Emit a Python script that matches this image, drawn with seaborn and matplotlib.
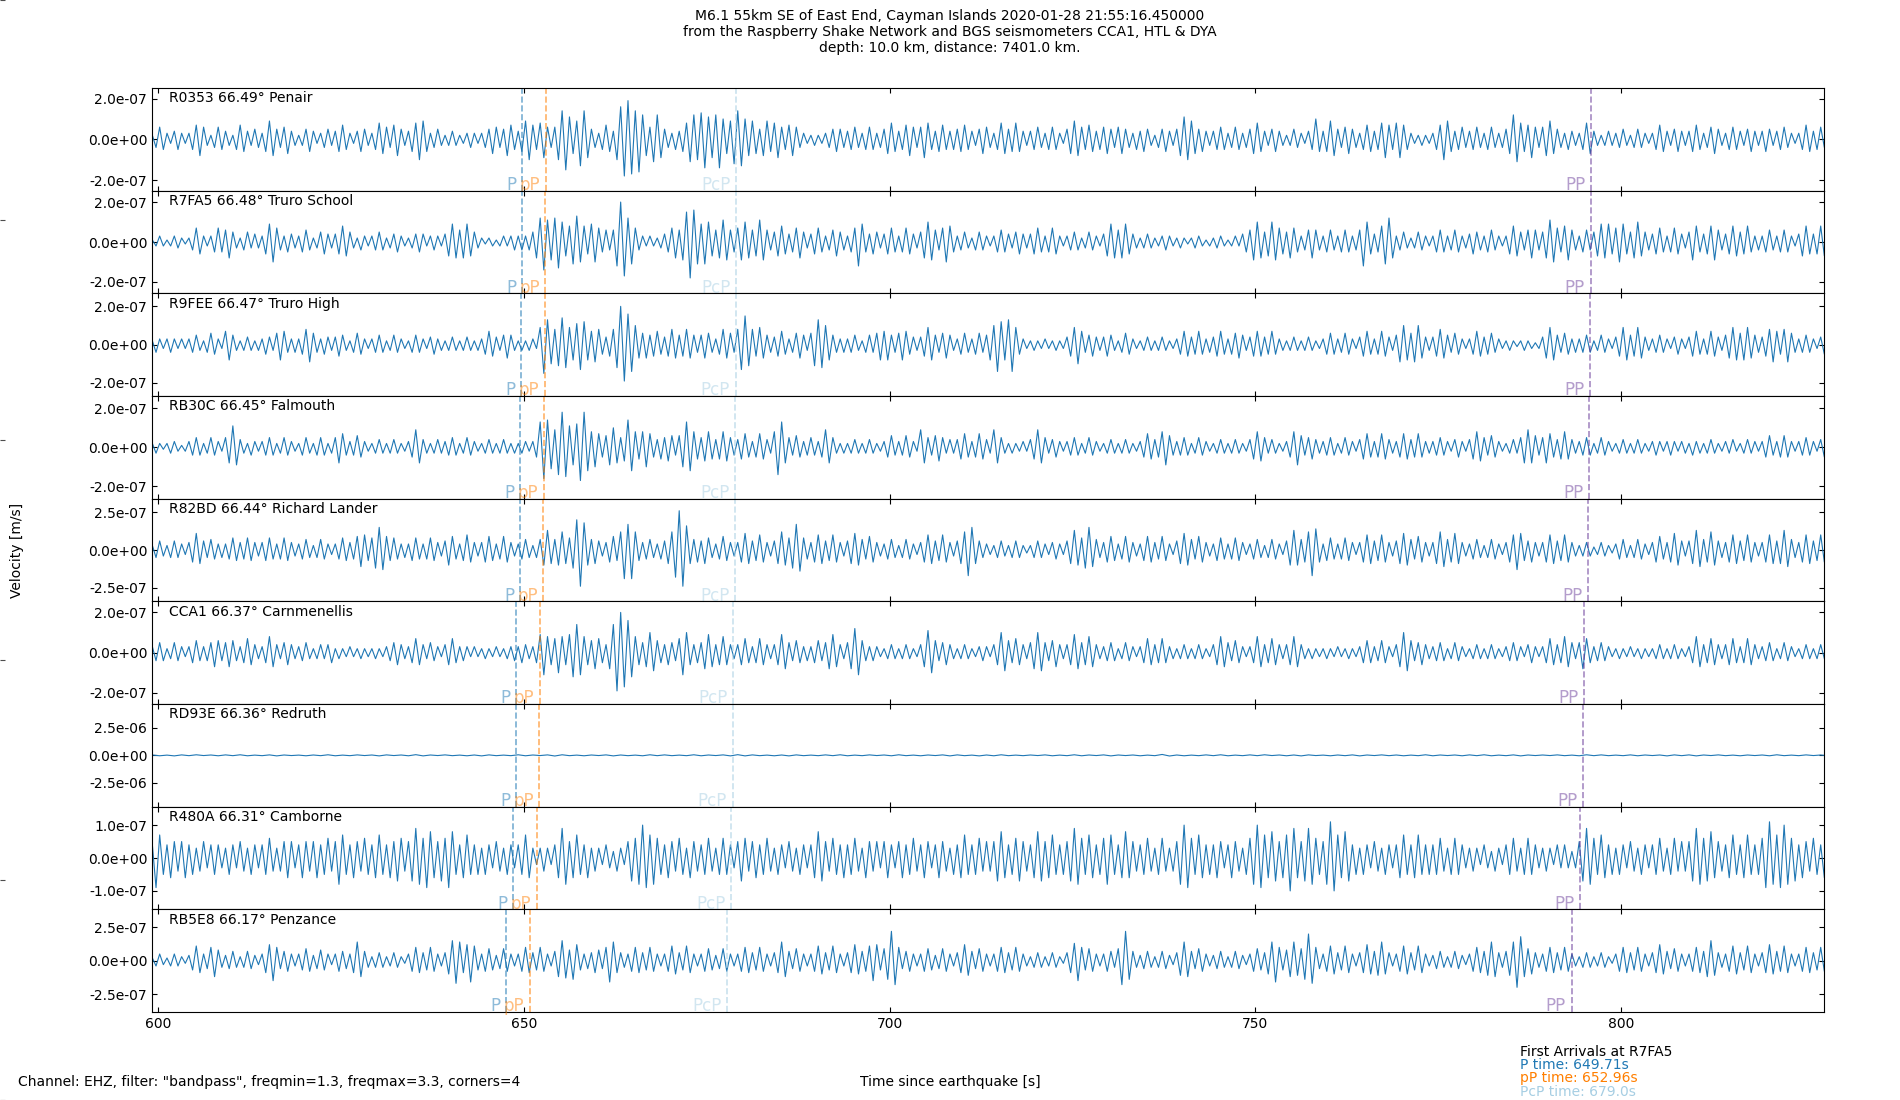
import numpy as np
import matplotlib
matplotlib.use("Agg")
import matplotlib.pyplot as plt
from matplotlib.ticker import FormatStrFormatter
import seaborn as sns

# estilo
sns.set_style("ticks", {"xtick.direction": "in", "ytick.direction": "in",
                        "axes.edgecolor": "black", "xtick.color": "black",
                        "ytick.color": "black", "text.color": "black"})

# ---- datos (velocidad en unidades de 1e-8 m/s, muestreo 0.5 s desde 599.25 s) ----
T0 = 599.25
DT = 0.5
UNIT = 1e-8

stations = ["R0353", "R7FA5", "R9FEE", "RB30C", "R82BD", "CCA1", "RD93E", "R480A", "RB5E8"]
distances = [66.49, 66.48, 66.47, 66.45, 66.44, 66.37, 66.36, 66.31, 66.17]
places = ["Penair", "Truro School", "Truro High", "Falmouth", "Richard Lander",
          "Carnmenellis", "Redruth", "Camborne", "Penzance"]

p_times = [649.78, 649.71, 649.64, 649.51, 649.44, 648.96, 648.89, 648.55, 647.60]
pp_depth_times = [653.03, 652.96, 652.89, 652.76, 652.69, 652.21, 652.14, 651.80, 650.85]
pcp_times = [679.04, 679.00, 678.96, 678.89, 678.85, 678.58, 678.54, 678.35, 677.82]
ppp_times = [795.9, 795.8, 795.7, 795.6, 795.5, 794.9, 794.8, 794.4, 793.2]

ylims = [25.2, 25.7, 26.8, 26.3, 34.0, 25.5, 467.0, 15.6, 38.5]
ytick_vals = [20, 20, 20, 20, 25, 20, 250, 10, 25]

R0353 = [
    2,-4,6,-5,3,-2,4,-5,3,-2, 3,-5,7,-8,6,-3,2,-4,6,-5,
    4,-3,2,-5,7,-6,4,-3,5,-4, 3,-6,9,-8,5,-4,6,-7,4,-3,
    2,-3,5,-6,4,-2,3,-4,5,-3, 4,-6,7,-5,3,-2,4,-6,5,-3,
    3,-5,8,-7,6,-4,7,-8,5,-3, 4,-6,8,-10,9,-6,3,-4,5,-3,
    2,-3,4,-3,2,-2,3,-4,3,-2, 3,-4,5,-7,6,-4,5,-8,7,-5,
    4,-6,9,-10,7,-5,8,-9,6,-4, 6,-10,14,-15,11,-7,9,-13,14,-9,
    5,-4,3,-5,7,-6,4,-10,16,-18, 19,-17,14,-16,12,-8,6,-11,12,-9,
    5,-4,3,-5,4,-6,8,-11,12,-10, 13,-14,11,-9,12,-14,10,-7,9,-12,
    14,-13,10,-8,9,-7,5,-8,9,-6, 8,-9,6,-5,7,-8,6,-4,3,-2,
    2,-3,2,-2,3,-4,5,-6,5,-4, 4,-5,6,-4,3,-5,6,-5,3,-4,
    5,-7,8,-6,4,-5,7,-8,6,-4, 6,-9,8,-5,4,-6,7,-5,4,-5,
    5,-6,7,-5,4,-3,5,-7,6,-4, 3,-5,8,-7,5,-6,8,-6,4,-3,
    4,-5,6,-4,3,-5,6,-5,3,-2, 5,-7,9,-8,6,-5,7,-6,4,-5,
    6,-7,5,-4,6,-7,5,-4,3,-5, 4,-6,5,-3,2,-4,5,-6,4,-3,
    5,-8,11,-10,9,-7,5,-6,4,-3, 4,-5,6,-5,3,-4,6,-5,3,-4,
    5,-7,8,-6,4,-3,5,-6,4,-3, 2,-3,5,-4,3,-2,4,-5,10,-6,
    4,-6,9,-8,5,-4,6,-7,5,-4, 3,-5,7,-6,4,-5,8,-9,7,-5,
    8,-9,7,-5,3,-2,2,-3,2,-2, 3,-5,7,-10,9,-6,4,-5,6,-4,
    4,-5,6,-4,3,-5,6,-4,3,-4, 5,-7,12,-11,8,-6,7,-9,6,-4,
    6,-8,9,-7,5,-4,3,-5,4,-3, 3,-5,8,-7,4,-3,2,-3,4,-3,
    3,-4,5,-3,2,-4,5,-4,3,-2, 3,-5,7,-6,4,-3,5,-6,4,-3,
    4,-6,7,-5,3,-4,6,-7,5,-3, 3,-5,6,-5,4,-3,5,-6,4,-3,
    4,-6,5,-3,4,-5,6,-4,3,-2, 3,-5,7,-6,4,-5,6,-4,3,-4,
]

R7FA5 = [
    1,-2,3,-2,1,-2,3,-3,2,-1, 2,-4,7,-6,3,-2,3,-5,7,-5,
    6,-8,5,-3,2,-4,5,-3,4,-3, 3,-6,9,-10,7,-4,3,-5,4,-3,
    3,-5,6,-4,2,-3,5,-6,4,-3, 4,-6,8,-7,5,-3,2,-4,3,-2,
    3,-4,5,-4,2,-3,4,-5,3,-2, 2,-3,4,-5,4,-2,3,-4,3,-2,
    4,-7,9,-8,6,-8,9,-7,5,-3, 2,-1,2,-2,1,-2,3,-2,3,-4,
    3,-4,3,-4,5,-8,12,-14,11,-9, 12,-13,10,-7,8,-11,13,-10,8,-6,
    9,-10,7,-5,6,-4,6,-12,20,-17, 12,-11,7,-4,3,-2,3,-2,2,-3,
    4,-5,7,-8,6,-9,15,-18,16,-11, 9,-11,10,-7,6,-8,11,-9,6,-5,
    7,-9,10,-8,6,-7,11,-9,6,-4, 5,-7,8,-6,4,-5,7,-8,5,-3,
    4,-6,7,-5,3,-4,6,-7,5,-4, 3,-5,7,-12,9,-5,4,-6,5,-3,
    4,-6,7,-5,3,-5,7,-6,4,-3, 5,-8,10,-9,6,-4,7,-10,8,-5,
    3,-4,5,-3,2,-4,5,-4,3,-2, 3,-5,6,-5,4,-3,5,-6,4,-3,
    4,-6,7,-5,3,-5,7,-6,3,-2, 3,-4,5,-4,2,-3,5,-4,3,-2,
    4,-7,9,-8,6,-8,9,-6,4,-3, 2,-3,4,-3,2,-2,3,-4,3,-2,
    2,-3,2,-1,2,-3,3,-2,1,-2, 2,-3,3,-2,1,-2,3,-2,4,-5,
    6,-9,10,-8,5,-7,10,-9,7,-6, 5,-8,7,-5,3,-4,6,-8,6,-4,
    3,-5,6,-4,3,-5,6,-5,3,-4, 6,-12,10,-6,4,-5,8,-11,12,-8,
    3,-4,5,-3,2,-3,5,-4,3,-2, 3,-5,6,-5,3,-4,6,-5,3,-3,
    4,-6,5,-4,3,-5,6,-4,3,-2, 3,-6,8,-7,5,-4,6,-8,6,-4,
    5,-8,11,-10,7,-5,8,-9,6,-4, 3,-5,6,-4,5,-7,9,-8,9,-6,
    7,-10,9,-6,5,-8,10,-7,5,-4, 4,-6,7,-5,3,-5,7,-6,4,-3,
    5,-9,8,-5,4,-6,8,-9,6,-4, 4,-6,8,-7,5,-6,8,-5,3,-4,
    3,-5,6,-4,3,-5,6,-5,3,-2, 4,-7,8,-6,4,-6,8,-7,5,-3,
]

R9FEE = [
    2,-4,3,-2,3,-4,3,-2,3,-2, 3,-4,5,-3,2,-4,6,-5,3,-2,
    7,-8,5,-3,2,-3,4,-3,2,-3, 3,-5,4,-3,6,-8,7,-4,3,-4,
    3,-5,8,-9,6,-4,3,-5,4,-3, 4,-6,5,-3,2,-4,6,-5,3,-2,
    3,-4,5,-4,2,-3,5,-4,3,-2, 2,-4,5,-4,3,-2,4,-5,3,-3,
    2,-3,4,-3,2,-3,4,-3,2,-3, 3,-5,7,-6,4,-3,5,-7,5,-3,
    2,-3,2,-3,3,-2,9,-15,13,-10, 8,-11,14,-12,9,-8,11,-13,12,-8,
    7,-9,8,-5,4,-6,8,-12,20,-19, 16,-14,10,-7,6,-7,5,-6,7,-5,
    4,-6,8,-7,5,-6,8,-7,5,-4, 5,-7,6,-4,3,-5,8,-7,6,-4,
    8,-13,15,-11,8,-6,9,-7,5,-4, 4,-6,7,-5,3,-4,6,-7,5,-3,
    6,-11,13,-12,10,-8,5,-4,3,-4, 3,-4,5,-3,2,-4,5,-4,6,-8,
    7,-8,5,-4,6,-8,7,-5,4,-3, 4,-6,9,-8,5,-4,6,-7,5,-3,
    3,-5,6,-4,3,-5,6,-4,5,-8, 10,-14,12,-8,13,-14,9,-5,3,-2,
    2,-3,2,-2,3,-2,2,-3,2,-2, 4,-6,9,-10,7,-4,5,-6,4,-3,
    4,-6,5,-3,2,-4,6,-5,3,-2, 2,-3,4,-3,2,-3,4,-3,2,-2,
    3,-5,7,-6,4,-5,7,-5,3,-4, 4,-6,7,-5,3,-5,6,-7,5,-3,
    4,-6,7,-6,4,-5,7,-5,3,-3, 2,-3,4,-3,2,-3,4,-3,2,-2,
    3,-5,6,-5,3,-4,6,-5,3,-2, 4,-6,7,-5,3,-5,7,-6,4,-3,
    5,-9,10,-8,6,-9,10,-7,4,-3, 4,-6,8,-7,5,-4,6,-5,3,-2,
    3,-5,7,-6,4,-5,6,-4,3,-2, 2,-3,2,-1,2,-3,2,-2,1,-2,
    4,-7,9,-8,5,-4,6,-5,3,-4, 3,-4,5,-4,2,-3,5,-4,3,-2,
    4,-6,9,-8,5,-6,9,-7,4,-3, 3,-4,5,-4,3,-2,4,-5,3,-2,
    4,-6,7,-5,3,-5,7,-6,4,-3, 5,-7,9,-8,6,-8,9,-7,5,-4,
    4,-6,8,-9,7,-5,8,-9,6,-4, 3,-4,5,-4,3,-2,4,-5,3,-2,
]

RB30C = [
    2,-3,2,-1,2,-3,3,-2,1,-2, 3,-4,5,-4,2,-3,5,-4,3,-2,
    5,-8,11,-9,4,-3,2,-4,3,-2, 3,-4,5,-4,2,-3,5,-4,3,-2,
    2,-4,5,-3,2,-4,5,-4,2,-3, 5,-8,7,-4,3,-4,6,-5,3,-2,
    2,-3,4,-3,2,-3,4,-3,2,-2, 3,-5,9,-8,4,-3,2,-3,4,-3,
    3,-4,5,-4,2,-3,5,-4,3,-2, 2,-3,4,-3,2,-3,4,-3,2,-3,
    2,-3,3,-2,3,-5,13,-16,14,-11, 9,-14,18,-15,11,-9,12,-17,18,-12,
    8,-10,7,-5,6,-9,10,-8,5,-7, 14,-12,8,-6,8,-10,7,-5,4,-6,
    5,-7,6,-4,6,-10,13,-12,8,-6, 5,-7,8,-6,4,-6,8,-7,5,-4,
    4,-6,7,-5,3,-5,7,-6,4,-3, 8,-14,13,-8,5,-4,6,-5,3,-4,
    5,-4,3,-5,9,-8,5,-3,2,-3, 2,-3,4,-3,2,-3,4,-3,2,-2,
    3,-5,6,-4,3,-4,6,-5,3,-2, 9,-8,5,-4,6,-7,5,-3,4,-3,
    4,-6,7,-5,3,-5,7,-6,4,-3, 9,-8,5,-3,2,-3,2,-2,3,-2,
    4,-6,9,-8,5,-3,4,-5,3,-2, 3,-4,5,-4,2,-3,5,-4,3,-2,
    2,-3,4,-3,2,-3,4,-3,2,-2, 3,-5,7,-6,4,-5,8,-9,6,-4,
    3,-4,5,-4,2,-3,5,-4,3,-2, 2,-3,4,-3,2,-3,4,-3,2,-2,
    4,-6,8,-7,5,-3,4,-3,2,-2, 3,-5,8,-9,6,-4,5,-6,4,-3,
    3,-4,5,-4,2,-3,5,-4,3,-2, 4,-6,7,-5,3,-5,7,-6,4,-3,
    3,-5,7,-6,4,-5,7,-5,3,-3, 3,-4,5,-4,3,-2,4,-5,3,-2,
    4,-6,8,-7,5,-4,6,-5,3,-2, 2,-3,4,-3,5,-8,9,-8,6,-4,
    5,-8,7,-5,4,-6,8,-6,4,-3, 3,-4,5,-4,2,-3,5,-4,3,-2,
    2,-3,4,-3,2,-3,4,-3,2,-2, 3,-4,3,-2,3,-4,3,-2,3,-3,
    2,-4,3,-3,2,-3,4,-3,2,-2, 3,-3,4,-2,2,-3,4,-3,3,-2,
    3,-5,6,-4,3,-5,6,-5,3,-2, 3,-4,5,-4,3,-2,4,-5,3,-2,
]

R82BD = [
    3,-5,6,-4,3,-5,6,-5,4,-3, 5,-8,11,-9,6,-5,7,-6,4,-5,
    4,-6,8,-7,5,-6,8,-7,5,-4, 5,-7,8,-6,4,-6,8,-7,5,-4,
    4,-6,7,-5,3,-5,7,-6,4,-3, 4,-6,8,-7,5,-6,9,-11,10,-7,
    8,-12,15,-13,9,-7,8,-6,4,-5, 4,-7,8,-6,4,-6,8,-7,5,-4,
    6,-10,9,-6,4,-7,10,-8,5,-4, 5,-8,9,-7,4,-6,9,-8,5,-4,
    4,-6,7,-5,3,-5,7,-10,13,-9, 7,-10,12,-9,8,-12,20,-24,18,-10,
    7,-9,6,-4,5,-8,9,-7,12,-19, 17,-19,12,-7,5,-6,7,-5,4,-6,
    6,-9,12,-18,26,-24,16,-9,7,-8, 6,-9,8,-5,4,-6,9,-7,5,-4,
    5,-8,11,-9,6,-7,10,-8,5,-4, 6,-9,12,-10,8,-12,17,-14,8,-6,
    5,-8,10,-9,6,-7,10,-8,5,-4, 6,-9,11,-10,7,-6,9,-8,5,-4,
    4,-6,7,-5,3,-5,7,-6,4,-3, 5,-8,10,-9,6,-7,10,-8,5,-4,
    6,-9,12,-17,15,-9,6,-5,4,-3, 3,-5,6,-4,3,-5,6,-5,3,-2,
    3,-5,6,-5,4,-3,5,-6,4,-3, 6,-9,13,-10,8,-12,15,-11,7,-5,
    5,-8,9,-7,4,-6,9,-8,5,-4, 4,-7,9,-8,5,-6,9,-7,4,-3,
    6,-9,11,-10,7,-6,9,-8,5,-4, 4,-7,8,-6,4,-6,8,-7,5,-3,
    4,-6,7,-5,3,-5,7,-6,4,-3, 6,-10,13,-10,7,-8,12,-17,14,-8,
    4,-7,8,-6,4,-6,8,-7,5,-3, 5,-8,10,-9,6,-7,10,-8,5,-4,
    6,-9,11,-10,7,-6,9,-8,5,-4, 5,-9,12,-11,7,-8,11,-9,5,-4,
    4,-6,7,-5,3,-5,7,-6,4,-3, 5,-8,10,-13,11,-7,6,-8,5,-4,
    5,-8,10,-9,6,-7,10,-8,5,-4, 3,-4,5,-4,2,-3,5,-4,3,-2,
    4,-6,7,-5,3,-5,7,-6,4,-3, 5,-8,9,-6,5,-8,11,-10,6,-4,
    6,-9,13,-11,7,-8,12,-10,6,-5, 5,-8,10,-9,6,-7,10,-8,5,-4,
    5,-8,10,-9,6,-9,13,-11,7,-5, 5,-8,10,-9,6,-7,10,-8,5,-4,
]

CCA1 = [
    3,-4,5,-4,2,-3,5,-4,3,-2, 3,-5,6,-4,3,-4,5,-7,6,-4,
    5,-7,6,-4,3,-5,7,-6,4,-3, 3,-5,8,-7,4,-3,5,-6,4,-3,
    3,-4,5,-3,2,-3,4,-3,4,-5, 2,-3,2,-2,3,-2,2,-3,2,-2,
    2,-3,2,-2,3,-4,5,-6,4,-3, 3,-5,7,-6,4,-3,5,-4,3,-2,
    4,-6,7,-5,3,-4,3,-2,3,-2, 2,-3,2,-2,3,-2,2,-3,3,-4,
    3,-5,4,-3,3,-5,9,-11,8,-6, 7,-10,8,-6,9,-12,14,-11,8,-6,
    6,-8,7,-5,4,-8,14,-19,20,-17, 16,-12,8,-6,5,-7,10,-9,6,-5,
    4,-6,5,-4,7,-11,10,-6,4,-5, 5,-8,9,-7,4,-6,8,-6,4,-3,
    4,-6,7,-5,3,-5,7,-6,4,-3, 4,-6,9,-8,5,-4,6,-5,3,-4,
    3,-5,6,-4,5,-8,9,-7,4,-3, 5,-8,12,-11,6,-4,3,-4,3,-2,
    2,-3,4,-3,2,-3,4,-3,2,-2, 4,-7,11,-10,6,-4,5,-6,4,-3,
    2,-3,4,-3,2,-2,3,-4,3,-2, 4,-6,10,-9,6,-5,7,-6,4,-3,
    5,-8,10,-9,5,-4,6,-7,4,-3, 4,-6,9,-8,5,-6,8,-7,4,-3,
    3,-4,5,-4,2,-3,5,-4,3,-2, 3,-5,7,-6,4,-5,7,-5,3,-3,
    2,-3,4,-3,2,-3,4,-3,2,-2, 4,-6,8,-7,5,-4,6,-5,3,-2,
    3,-5,8,-7,4,-5,7,-6,4,-3, 4,-6,8,-7,4,-3,2,-3,2,-2,
    2,-3,2,-2,3,-2,2,-3,2,-2, 3,-5,6,-5,3,-4,6,-5,3,-2,
    4,-7,10,-9,6,-4,5,-6,4,-3, 3,-4,5,-4,2,-3,5,-4,3,-2,
    2,-3,4,-3,2,-3,4,-3,2,-2, 3,-4,5,-4,3,-2,4,-5,3,-2,
    3,-5,7,-6,4,-5,8,-7,5,-3, 5,-8,7,-5,3,-4,5,-4,3,-2,
    2,-3,2,-2,3,-2,2,-3,2,-2, 2,-3,4,-3,2,-3,4,-3,2,-2,
    3,-5,8,-7,4,-5,7,-6,4,-3, 4,-6,7,-5,3,-5,7,-6,4,-3,
    3,-4,5,-4,2,-3,5,-4,3,-2, 2,-3,4,-3,2,-3,4,-3,2,-2,
]

# RD93E muestreado a 1 s (casi plano en su escala)
RD93E = [
    3,-4,2,-5,4,-3,5,-2,3,-4, 4,-3,5,-4,2,-3,4,-5,3,-2,
    2,-4,3,-3,5,-4,2,-3,4,-2, 3,-5,4,-2,3,-4,6,-5,3,-2,
    4,-3,2,-4,3,-5,4,-3,2,-3, 5,-4,3,-2,4,-6,5,-3,2,-4,
    3,-2,4,-5,3,-3,2,-4,5,-3, 4,-3,2,-3,5,-4,3,-2,4,-5,
    6,-5,4,-3,2,-4,3,-5,4,-3, 2,-3,4,-3,5,-4,2,-3,4,-2,
    3,-4,5,-3,2,-4,3,-2,4,-5, 4,-3,2,-5,3,-4,5,-3,2,-3,
    3,-2,4,-4,2,-3,5,-4,3,-2, 4,-5,3,-2,3,-4,2,-3,8,-6,
    3,-4,2,-3,4,-3,5,-4,2,-3, 4,-3,5,-2,3,-4,3,-5,4,-2,
    2,-4,3,-3,4,-5,3,-2,4,-3, 3,-4,2,-3,5,-4,3,-2,3,-4,
    4,-3,5,-4,2,-3,4,-5,3,-2, 3,-2,4,-3,2,-4,5,-3,4,-3,
    2,-3,4,-4,3,-2,3,-5,4,-3, 4,-5,3,-2,4,-3,2,-4,3,-2,
    3,-4,5,-3,2,-3,4,-2,3,-4,
]

R480A = [
    4,-9,7,-5,4,-6,5,-4,5,-6, 4,-5,3,-4,5,-3,4,-5,4,-3,
    3,-5,4,-3,5,-4,3,-5,4,-3, 4,-5,6,-4,3,-4,5,-6,5,-3,
    4,-6,5,-4,5,-6,4,-5,6,-4, 5,-8,7,-5,4,-6,5,-4,6,-5,
    4,-6,7,-5,4,-6,5,-7,6,-4, 5,-7,9,-8,6,-9,8,-6,5,-7,
    6,-9,8,-5,4,-6,7,-5,4,-5, 3,-5,4,-3,5,-4,3,-5,4,-3,
    4,-5,7,-6,3,-2,3,-4,3,-2, 4,-6,9,-8,5,-6,7,-5,4,-6,
    3,-4,3,-2,4,-3,2,-4,3,-2, 5,-7,6,-8,10,-9,7,-8,6,-5,
    4,-6,5,-4,6,-5,3,-6,5,-4, 4,-5,6,-4,3,-5,6,-5,4,-3,
    5,-7,6,-4,5,-6,4,-5,6,-4, 3,-5,4,-3,5,-4,3,-5,4,-3,
    4,-6,8,-7,5,-4,6,-5,4,-6, 4,-5,6,-4,3,-6,5,-4,5,-3,
    5,-6,4,-3,5,-6,4,-5,6,-4, 4,-6,5,-3,4,-6,5,-4,3,-5,
    4,-6,7,-5,4,-5,6,-4,5,-4, 5,-7,8,-6,4,-5,6,-7,5,-4,
    4,-6,8,-7,5,-6,7,-5,4,-5, 5,-7,9,-8,6,-5,7,-6,4,-5,
    6,-8,7,-5,4,-6,8,-6,5,-4, 4,-5,6,-4,3,-5,6,-4,3,-4,
    5,-8,10,-9,6,-5,7,-6,4,-5, 4,-6,5,-3,4,-6,5,-4,3,-5,
    6,-8,10,-9,7,-6,8,-7,5,-6, 7,-10,9,-6,5,-7,9,-8,6,-5,
    5,-8,11,-10,7,-6,8,-7,4,-5, 3,-5,4,-3,5,-4,3,-5,4,-3,
    4,-6,7,-5,4,-6,7,-5,4,-5, 4,-5,6,-4,3,-5,6,-5,4,-3,
    3,-4,3,-2,4,-3,2,-4,3,-2, 4,-5,6,-4,3,-5,6,-5,4,-3,
    3,-4,3,-2,4,-3,4,-3,2,-3, 5,-7,9,-8,6,-5,7,-6,4,-5,
    3,-5,4,-3,5,-4,3,-5,4,-3, 4,-5,6,-4,3,-5,6,-4,5,-4,
    5,-7,9,-8,6,-7,8,-6,5,-4, 4,-6,7,-5,4,-6,7,-5,4,-5,
    6,-9,11,-8,7,-9,10,-8,6,-7, 4,-6,5,-4,6,-5,4,-6,5,-4,
]

RB5E8 = [
    2,-4,5,-3,2,-4,5,-4,3,-2, 4,-7,11,-9,5,-6,10,-12,8,-5,
    4,-6,7,-5,3,-5,7,-6,4,-3, 5,-9,12,-15,10,-6,7,-8,5,-4,
    5,-7,9,-8,4,-6,8,-7,5,-3, 5,-8,7,-6,5,-9,14,-12,7,-5,
    3,-5,6,-5,3,-4,6,-5,3,-2, 5,-8,10,-9,6,-7,10,-8,5,-4,
    6,-10,15,-17,14,-9,12,-16,11,-7, 5,-8,9,-7,4,-6,9,-8,5,-4,
    5,-8,10,-9,6,-7,10,-8,5,-4, 7,-12,15,-13,8,-14,12,-7,5,-6,
    6,-9,8,-6,10,-16,14,-9,6,-5, 5,-8,10,-9,6,-7,10,-8,5,-4,
    5,-8,11,-10,6,-7,11,-9,5,-4, 5,-8,9,-7,4,-6,9,-8,5,-4,
    5,-8,10,-9,6,-7,10,-8,5,-4, 6,-9,14,-12,7,-6,9,-8,5,-4,
    5,-8,11,-10,6,-7,11,-9,5,-4, 6,-9,12,-10,7,-8,11,-15,12,-7,
    9,-14,22,-18,10,-6,7,-8,5,-4, 5,-8,9,-7,4,-6,9,-8,5,-4,
    6,-9,12,-11,7,-6,9,-8,5,-4, 5,-8,10,-9,6,-7,10,-8,5,-4,
    3,-5,6,-5,3,-4,6,-5,3,-2, 6,-9,13,-15,10,-7,9,-8,5,-4,
    5,-8,7,-5,9,-18,22,-14,7,-5, 4,-6,7,-5,3,-5,7,-6,4,-3,
    6,-11,14,-12,7,-6,9,-8,5,-4, 4,-6,7,-5,3,-5,7,-6,4,-3,
    5,-8,9,-7,6,-10,14,-16,10,-7, 8,-12,14,-11,9,-14,20,-17,10,-6,
    5,-8,11,-10,6,-7,11,-9,5,-4, 6,-9,12,-10,7,-11,14,-10,6,-4,
    5,-8,11,-10,6,-7,11,-9,5,-4, 4,-6,7,-5,3,-5,7,-6,4,-3,
    5,-8,10,-9,7,-11,14,-12,6,-5, 7,-11,14,-20,18,-12,9,-10,6,-5,
    5,-8,10,-9,6,-7,10,-8,5,-4, 3,-5,6,-5,3,-4,6,-5,3,-2,
    5,-8,10,-9,6,-7,10,-8,5,-4, 6,-9,12,-10,7,-6,9,-8,5,-4,
    5,-8,10,-9,7,-12,15,-11,6,-5, 5,-8,11,-10,6,-7,11,-9,5,-4,
    6,-9,12,-10,7,-8,11,-9,5,-4, 5,-8,10,-9,6,-7,10,-8,5,-4,
]

traces = [R0353, R7FA5, R9FEE, RB30C, R82BD, CCA1, RD93E, R480A, RB5E8]
steps = [DT, DT, DT, DT, DT, DT, 1.0, DT, DT]

title = ("M6.1 55km SE of East End, Cayman Islands 2020-01-28 21:55:16.450000\n"
         "from the Raspberry Shake Network and BGS seismometers CCA1, HTL & DYA\n"
         "depth: 10.0 km, distance: 7401.0 km.")

phase_names = ["P", "pP", "PcP", "PP"]
phase_times = [p_times, pp_depth_times, pcp_times, ppp_times]
phase_colors = ["#1f78b4", "#ff7f00", "#a6cee3", "#6a3d9a"]

# ---- figura ----
fig, axes = plt.subplots(len(stations), 1, figsize=(19, 11), dpi=100, sharex=True)
fig.subplots_adjust(left=0.08, right=0.96, top=0.92, bottom=0.08, hspace=0)

for i, ax in enumerate(axes):
    vals = np.array(traces[i], dtype=float) * UNIT
    t = T0 + steps[i] * np.arange(len(vals))
    sns.lineplot(x=t, y=vals, ax=ax, color="#1f77b4", linewidth=0.8,
                 estimator=None, sort=False)

    lim = ylims[i] * UNIT
    ax.set_ylim(-lim, lim)
    tk = ytick_vals[i] * UNIT
    ax.set_yticks([-tk, 0, tk])
    ax.yaxis.set_major_formatter(FormatStrFormatter("%.1e"))
    ax.set_xlim(599.2, 827.7)
    ax.tick_params(direction="in", top=True, right=True, labelsize=10)
    ax.set_ylabel("")

    for name, times, col in zip(phase_names, phase_times, phase_colors):
        ax.axvline(times[i], color=col, alpha=0.6, linestyle="--", linewidth=1.2)
        ax.annotate(name, xy=(times[i], -lim), xytext=(-4, -2.5), textcoords="offset points",
                    ha="right", va="bottom", color=col, alpha=0.5, fontsize=12)

    ax.text(0.01, 0.9, f"{stations[i]} {distances[i]:.2f}° {places[i]}",
            transform=ax.transAxes, va="center", fontsize=10)

axes[-1].set_xticks([600, 650, 700, 750, 800])

# eje de fondo (marcas en el borde izquierdo)
bg = fig.add_axes([0, 0, 1, 1], frameon=False, zorder=-1)
bg.tick_params(labelleft=False, labelbottom=False, bottom=False, left=True,
               direction="in", color="0.3")
bg.set_xticks([])

fig.suptitle(title, fontsize=10, y=0.992, va="top")
fig.text(0.009, 0.5, "Velocity [m/s]", rotation=90, va="center", ha="center", fontsize=10)
fig.text(0.5, 0.0166, "Time since earthquake [s]", va="center", ha="center", fontsize=10)
fig.text(0.0093, 0.0166, 'Channel: EHZ, filter: "bandpass", freqmin=1.3, freqmax=3.3, corners=4',
         va="center", ha="left", fontsize=10)

# primeras llegadas en R7FA5
fig.text(0.8, 0.0439, "First Arrivals at R7FA5", va="center", fontsize=10)
fig.text(0.8, 0.0318, f"P time: {p_times[1]:.2f}s", va="center", fontsize=10, color=phase_colors[0])
fig.text(0.8, 0.0197, f"pP time: {pp_depth_times[1]:.2f}s", va="center", fontsize=10, color=phase_colors[1])
fig.text(0.8, 0.0075, f"PcP time: {pcp_times[1]:.1f}s", va="center", fontsize=10, color=phase_colors[2])

fig.savefig("out.png", dpi=100)
